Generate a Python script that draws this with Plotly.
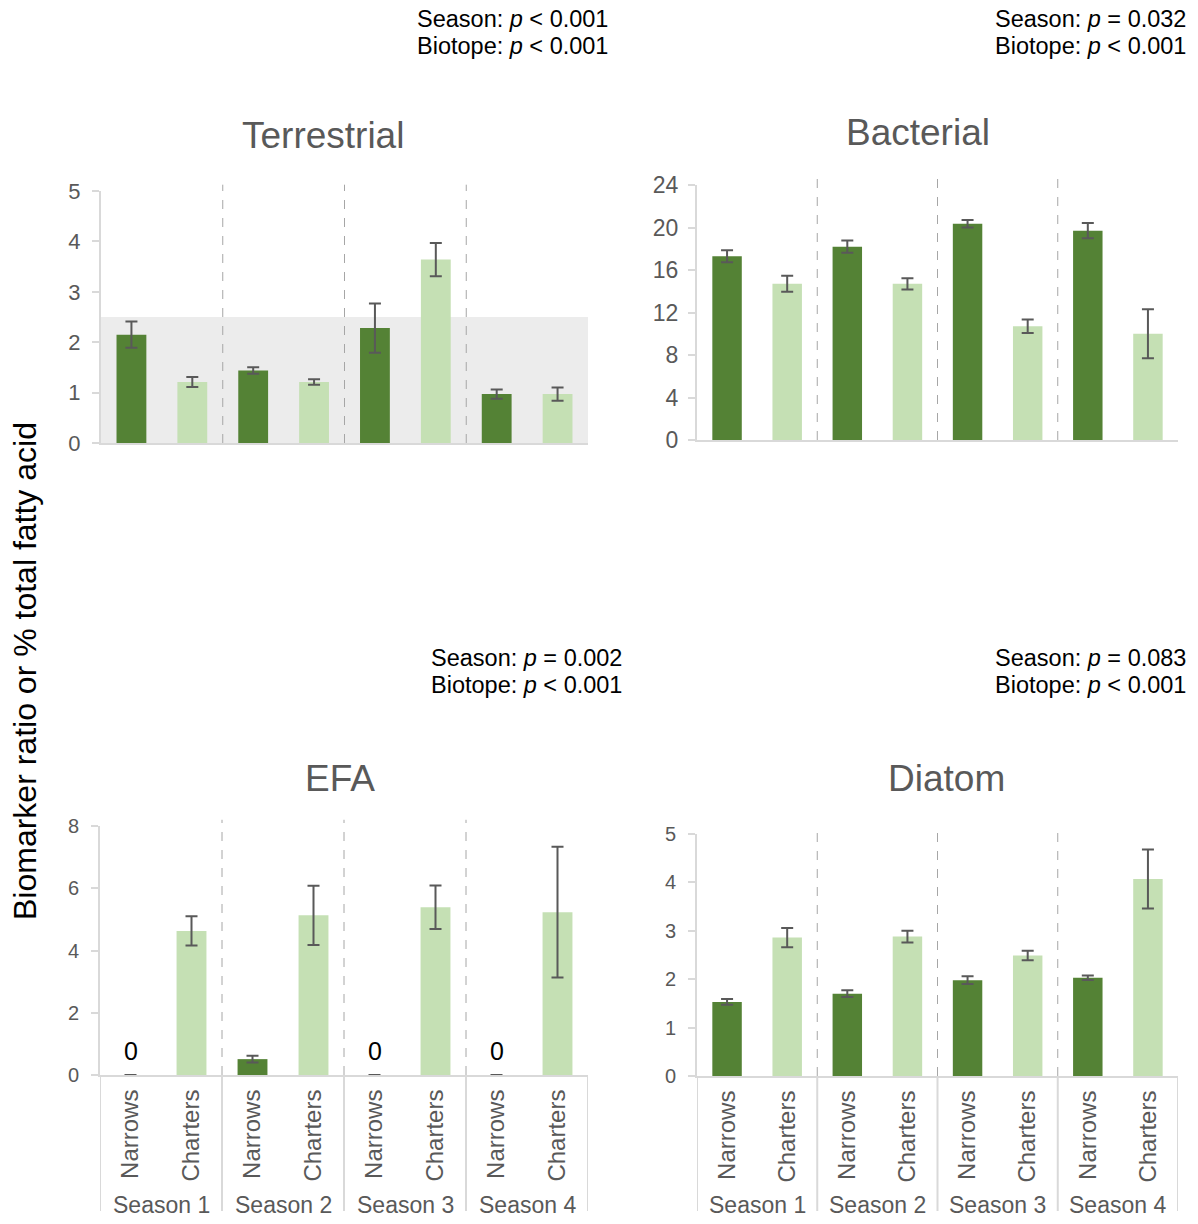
import plotly.graph_objects as go

# ---- data ---------------------------------------------------------------
biotopes = ["Narrows", "Charters"]
seasons = ["Season 1", "Season 2", "Season 3", "Season 4"]

terrestrial_mean = [2.15, 1.21, 1.44, 1.21, 2.28, 3.64, 0.97, 0.97]
terrestrial_err = [0.26, 0.10, 0.065, 0.055, 0.49, 0.33, 0.09, 0.13]

bacterial_mean = [17.3, 14.7, 18.2, 14.7, 20.35, 10.7, 19.7, 10.0]
bacterial_err = [0.56, 0.75, 0.57, 0.53, 0.35, 0.64, 0.72, 2.3]

efa_mean = [0, 4.63, 0.51, 5.13, 0, 5.39, 0, 5.23]
efa_err = [0, 0.47, 0.11, 0.95, 0, 0.70, 0, 2.1]

diatom_mean = [1.53, 2.86, 1.70, 2.88, 1.98, 2.49, 2.03, 4.07]
diatom_err = [0.06, 0.20, 0.07, 0.12, 0.08, 0.10, 0.045, 0.61]

terrestrial_band = 2.5

stats = {
    "Terrestrial": ["Season: <i>p</i> &lt; 0.001", "Biotope: <i>p</i> &lt; 0.001"],
    "Bacterial": ["Season: <i>p</i> = 0.032", "Biotope: <i>p</i> &lt; 0.001"],
    "EFA": ["Season: <i>p</i> = 0.002", "Biotope: <i>p</i> &lt; 0.001"],
    "Diatom": ["Season: <i>p</i> = 0.083", "Biotope: <i>p</i> &lt; 0.001"],
}

# ---- style / geometry ---------------------------------------------------
W, H = 1198, 1224
# vertical drawing band of the page (top offset and usable height)
TOP, USABLE = 13, 1198
DARK, LIGHT = "#548235", "#C5E0B4"
GREY_TXT = "#595959"
AXIS = "#d9d9d9"
FONT = "Liberation Sans, Arial, sans-serif"


def px(x):
    return x / W


def py(y):
    return 1 - (y - TOP) / USABLE


labels = [b for _ in seasons for b in biotopes]
xpos = list(range(len(labels)))
colors = [DARK if b == "Narrows" else LIGHT for b in labels]

panels = [
    # name, mean, err, yrange, dtick, x px span, y px (zero, top), tick font, standoff, bottom?
    ("Terrestrial", terrestrial_mean, terrestrial_err, [0, 5], 1, (101, 588), (443, 191), 22, 7, False),
    ("Bacterial", bacterial_mean, bacterial_err, [0, 24], 4, (697, 1178), (440, 185), 23, 5, False),
    ("EFA", efa_mean, efa_err, [0, 8], 2, (100, 588), (1075, 826), 20, 8, True),
    ("Diatom", diatom_mean, diatom_err, [0, 5], 1, (697, 1178), (1076, 834), 20, 8, True),
]

title_pos = {"Terrestrial": (323, 135), "Bacterial": (918, 132),
             "EFA": (340, 778), "Diatom": (947, 778)}
stat_pos = {"Terrestrial": (415, 19), "Bacterial": (993, 19),
            "EFA": (429, 658), "Diatom": (993, 658)}

fig = go.Figure()
shapes, annotations = [], []
layout_axes = {}
n = len(panels)

for i, (name, mean, err, yr, dt, (x0, x1), (yz, yt), tfs, stand, bottom) in enumerate(panels, start=1):
    xa = "x" if i == 1 else f"x{i}"
    ya = "y" if i == 1 else f"y{i}"
    xkey = "xaxis" if i == 1 else f"xaxis{i}"
    ykey = "yaxis" if i == 1 else f"yaxis{i}"

    fig.add_trace(go.Bar(
        x=xpos, y=mean, xaxis=xa, yaxis=ya, width=0.49,
        marker=dict(color=colors, line=dict(width=0)),
        error_y=dict(type="data", array=err, visible=True,
                     color=GREY_TXT, thickness=2, width=6),
        showlegend=False, hoverinfo="skip",
    ))

    layout_axes[xkey] = dict(
        domain=[px(x0), px(x1)], anchor=ya, range=[-0.5, len(labels) - 0.5],
        showline=True, linecolor=AXIS, linewidth=2, showgrid=False, zeroline=False,
        ticks="", tickmode="array", tickvals=xpos,
        ticktext=labels, showticklabels=bottom, tickangle=-90,
        tickfont=dict(size=24, color=GREY_TXT, family=FONT),
        ticklabelstandoff=3, fixedrange=True,
    )
    layout_axes[ykey] = dict(
        domain=[py(yz), py(yt)], anchor=xa, range=yr, dtick=dt, tick0=0,
        showline=True, linecolor=AXIS, linewidth=2, showgrid=False, zeroline=False,
        ticks="outside", ticklen=7, tickwidth=2, tickcolor=AXIS,
        tickfont=dict(size=tfs, color=GREY_TXT, family=FONT),
        ticklabelstandoff=stand, fixedrange=True,
    )
    # inner half of the crossing tick marks
    layout_axes[f"yaxis{n + i}"] = dict(
        overlaying=ya, anchor=xa, matches=ya, range=yr, dtick=dt, tick0=0,
        showline=False, showgrid=False, zeroline=False, showticklabels=False,
        ticks="inside", ticklen=7, tickwidth=2, tickcolor=AXIS, fixedrange=True,
    )

    # dashed season separators inside the plot area
    for b in (1.5, 3.5, 5.5):
        shapes.append(dict(type="line", xref=xa, yref=f"{ya} domain",
                           x0=b, x1=b, y0=0, y1=1.025,
                           line=dict(color="#a6a6a6", width=1, dash="dash")))

    if bottom:
        # solid group separators in the category label area
        for b in (-0.5, 1.5, 3.5, 5.5, 7.5):
            shapes.append(dict(type="line", xref=xa, yref="paper",
                               x0=b, x1=b, y0=0, y1=py(yz),
                               line=dict(color=AXIS, width=2)))
        for k, s in enumerate(seasons):
            annotations.append(dict(text=s, xref=xa, yref="paper", x=2 * k + 0.5,
                                    y=py(1205), xanchor="center", yanchor="middle",
                                    showarrow=False,
                                    font=dict(size=23, color=GREY_TXT, family=FONT)))

    # value labels for zero bars
    for xi, v in zip(xpos, mean):
        if v == 0:
            annotations.append(dict(text=f"{v:g}", xref=xa, yref=ya, x=xi, y=v,
                                    xanchor="center", yanchor="bottom", yshift=8,
                                    showarrow=False,
                                    font=dict(size=25, color="#000000", family=FONT)))

    tx, ty = title_pos[name]
    annotations.append(dict(text=name, xref="paper", yref="paper", x=px(tx), y=py(ty),
                            xanchor="center", yanchor="middle", showarrow=False,
                            font=dict(size=37, color=GREY_TXT, family=FONT)))

    sx, sy = stat_pos[name]
    for k, line in enumerate(stats[name]):
        annotations.append(dict(text=line, xref="paper", yref="paper", x=px(sx),
                                y=py(sy + 27 * k), xanchor="left", yanchor="middle",
                                showarrow=False,
                                font=dict(size=23.5, color="#000000", family=FONT)))

# shaded reference band in the terrestrial panel
shapes.append(dict(type="rect", xref="x", yref="y", x0=-0.5, x1=7.5,
                   y0=0, y1=terrestrial_band, fillcolor="#ececec",
                   line=dict(width=0), layer="below"))

annotations.append(dict(text="Biomarker ratio or % total fatty acid", xref="paper", yref="paper",
                        x=px(25), y=py(671), xanchor="center", yanchor="middle",
                        textangle=-90, showarrow=False,
                        font=dict(size=32, color="#000000", family=FONT)))

fig.update_layout(
    width=W, height=H, margin=dict(l=0, r=0, t=0, b=0),
    paper_bgcolor="white", plot_bgcolor="white",
    font=dict(family=FONT), bargap=0.5,
    shapes=shapes, annotations=annotations, **layout_axes,
)

fig.write_html("out.html")
